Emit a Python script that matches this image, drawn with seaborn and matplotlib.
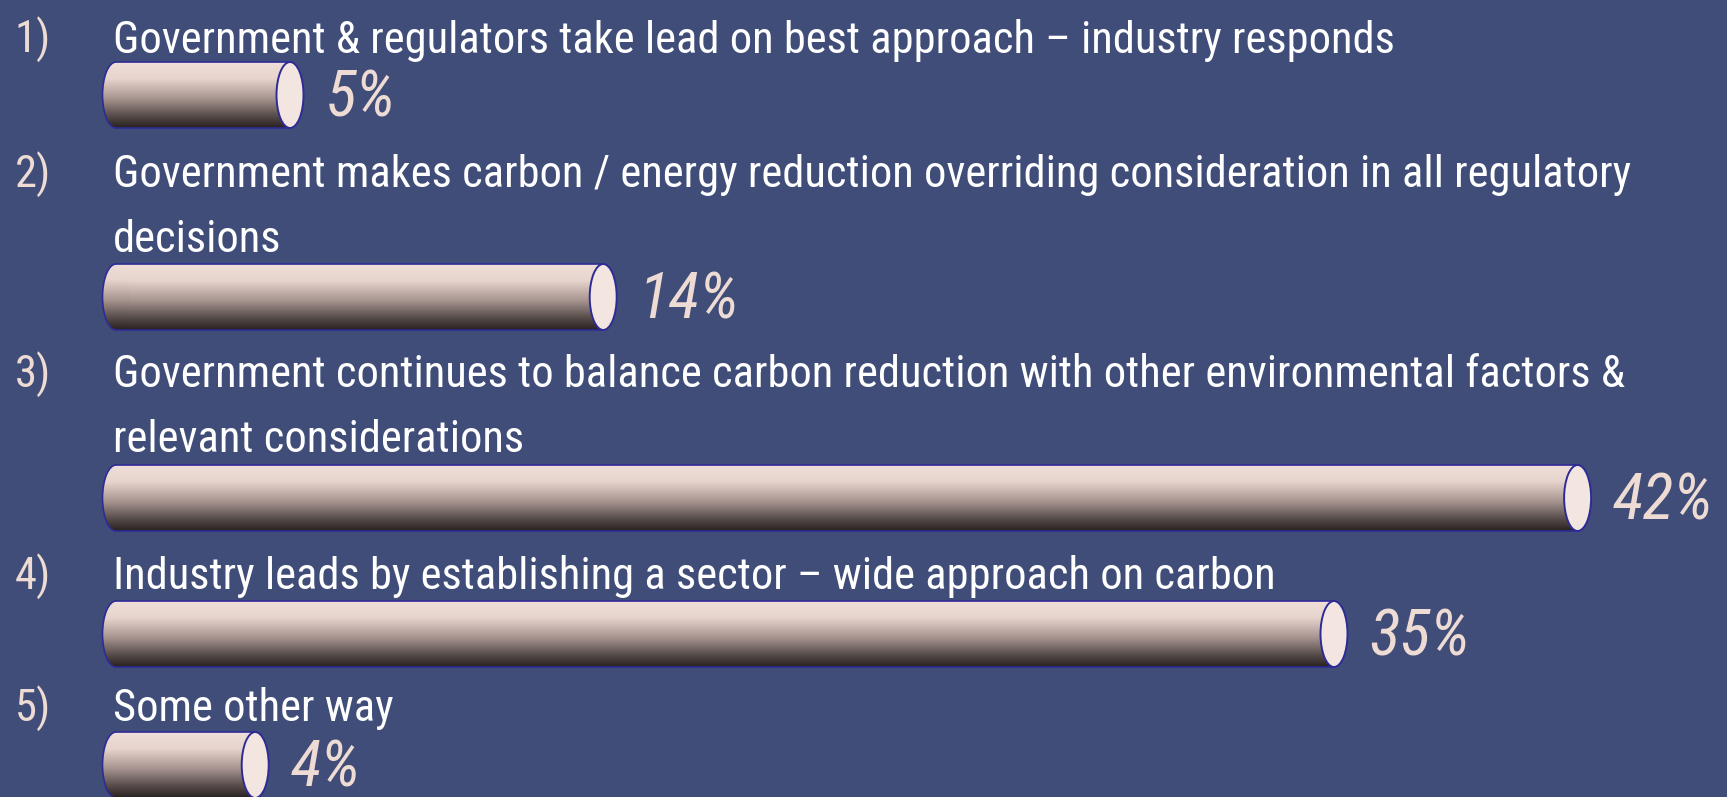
import matplotlib
matplotlib.use("Agg")
import matplotlib.pyplot as plt
from matplotlib.colors import LinearSegmentedColormap
from matplotlib.patches import Ellipse, Arc
import numpy as np
import pandas as pd
import seaborn as sns

# data
numbers = ["1)", "2)", "3)", "4)", "5)"]
questions = [
    "Government & regulators take lead on best approach \u2013 industry responds",
    "Government makes carbon / energy reduction overriding consideration in all regulatory\ndecisions",
    "Government continues to balance carbon reduction with other environmental factors &\nrelevant considerations",
    "Industry leads by establishing a sector \u2013 wide approach on carbon",
    "Some other way",
]
shares = [5, 14, 42, 35, 4]

# layout (pixel rows, top = 0)
W, H = 1727, 797
BAR_Y = [95, 297, 498, 634, 765]
TEXT_Y = [40, 175, 375, 577, 709]
LINE_STEP = 65
BAR_H = 66
PX_PER_PCT = 34.8
X0_PX = 116
CAP_W = 27 / PX_PER_PCT
WIDEST_LINE_PX = 1535   # width of the longest question line in the slide
PCT_W_PX = 97           # width of "42%"

BG = "#3f4d78"
NAVY = "#2e2b96"
PINK = "#eedbd3"
CAP = "#f3e5df"
FONT = ["Roboto Condensed", "DejaVu Sans Condensed", "Liberation Sans Narrow",
        "DejaVu Sans"]

sns.set_style("white")
plt.rcParams["font.family"] = FONT
plt.rcParams["font.stretch"] = "condensed"

grad_cmap = LinearSegmentedColormap.from_list(
    "cyl", [(0.0, "#efdfd8"), (0.25, "#e6d4cd"), (0.55, "#a89590"),
            (0.8, "#5b504e"), (1.0, "#272120")])

fig = plt.figure(figsize=(W / 100, H / 100), dpi=100, facecolor=BG)
ax = fig.add_axes([0, 0, 1, 1])

df = pd.DataFrame({"share": shares, "ypos": BAR_Y})
sns.barplot(data=df, x="share", y="ypos", orient="h", native_scale=True,
            width=BAR_H / 131, errorbar=None, ax=ax)

ax.set_xlim(-X0_PX / PX_PER_PCT, (W - X0_PX) / PX_PER_PCT)
ax.set_ylim(H, 0)
ax.axis("off")

grad = np.linspace(0, 1, 256).reshape(-1, 1)
pct_texts = []
for p in ax.patches[:]:
    y = p.get_y()
    h = p.get_height()
    w = p.get_width()
    yc = y + h / 2
    p.set_facecolor("none")
    p.set_edgecolor("none")
    # body gradient clipped to bar rectangle
    im = ax.imshow(grad, cmap=grad_cmap, aspect="auto", origin="upper",
                   extent=(0, w, y + h, y), zorder=2)
    im.set_clip_path(p)
    # rounded left end
    left = Ellipse((0, yc), CAP_W, h, facecolor="none", edgecolor="none")
    ax.add_patch(left)
    im2 = ax.imshow(grad, cmap=grad_cmap, aspect="auto", origin="upper",
                    extent=(-CAP_W, CAP_W, y + h, y), zorder=2)
    im2.set_clip_path(left)
    ax.add_patch(Arc((0, yc), CAP_W, h, theta1=90, theta2=270,
                     edgecolor=NAVY, lw=1.2, zorder=3))
    ax.plot([0, w], [y, y], color=NAVY, lw=1.2, zorder=3)
    ax.plot([0, w], [y + h, y + h], color=NAVY, lw=1.2, zorder=3)
    # end cap
    ax.add_patch(Ellipse((w, yc), CAP_W, h, facecolor=CAP,
                         edgecolor=NAVY, lw=1.4, zorder=4))
    t = ax.text(w + CAP_W / 2 + 22 / PX_PER_PCT, yc + 4, f"{w:.0f}%",
                color=PINK, fontsize=46, style="italic", va="center",
                ha="left", zorder=5)
    pct_texts.append(t)

# question labels
x_num = (15 - X0_PX) / PX_PER_PCT
x_txt = (113 - X0_PX) / PX_PER_PCT
q_texts = []
for num, q, ty in zip(numbers, questions, TEXT_Y):
    q_texts.append(ax.text(x_num, ty, num, color=PINK, fontsize=32,
                           va="center", ha="left"))
    for i, line in enumerate(q.split("\n")):
        q_texts.append(ax.text(x_txt, ty + i * LINE_STEP, line, color="white",
                               fontsize=32, va="center", ha="left"))

# the slide font is very narrow: shrink whatever font we got to the same widths
fig.canvas.draw()
r = fig.canvas.get_renderer()
widest = max(t.get_window_extent(r).width for t in q_texts)
k = min(1.0, WIDEST_LINE_PX / widest)
for t in q_texts:
    t.set_fontsize(32 * k)
w42 = max(t.get_window_extent(r).width for t in pct_texts)
kp = min(1.0, PCT_W_PX * 1.2 / w42)
for t in pct_texts:
    t.set_fontsize(46 * kp)

fig.savefig("out.png", dpi=100, facecolor=BG)
